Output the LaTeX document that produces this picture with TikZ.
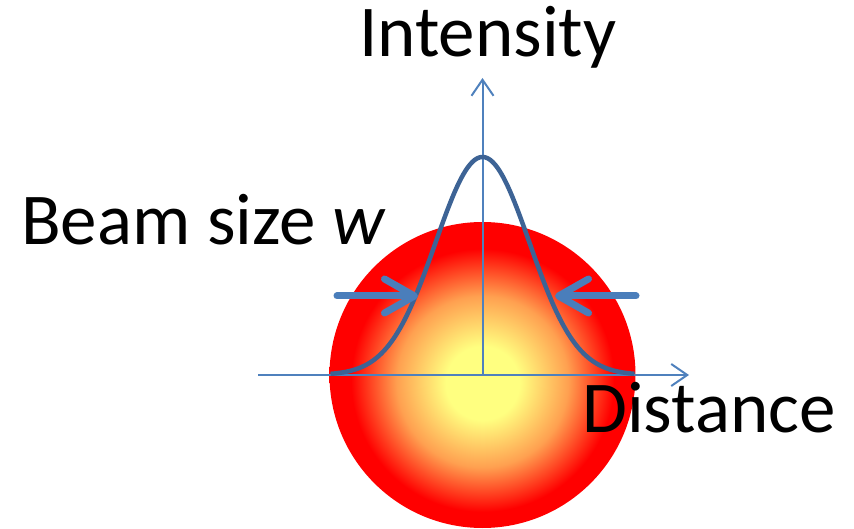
\documentclass[tikz,border=0pt]{standalone}
\usepackage{fontspec}
\setmainfont{Carlito}
\usetikzlibrary{arrows.meta}
\definecolor{axisblue}{HTML}{4F81BD}
\definecolor{curveblue}{HTML}{3D6395}
\definecolor{pinchblue}{HTML}{4A7EBB}
\definecolor{spotyellow}{HTML}{FFFF80}
\definecolor{spotorange}{HTML}{FFA050}
\definecolor{spotred}{HTML}{FF0000}
\pgfdeclareradialshading{beamspot}{\pgfpoint{0bp}{-1.5bp}}{color(0bp)=(spotyellow); color(6bp)=(spotyellow); color(14bp)=(spotorange); color(21.5bp)=(spotred); color(50bp)=(spotred)}

\begin{document}
\begin{tikzpicture}[x=1pt,y=-1pt,
  axis/.style={axisblue,line width=2pt,-{Straight Barb[length=16pt,width=22pt]}},
  pinch/.style={pinchblue,line width=7pt,line cap=round,-{Straight Barb[length=30pt,width=34pt,round]}},
  bigtext/.style={font=\fontsize{73}{86}\selectfont,inner sep=0pt,anchor=base west}]
  \useasboundingbox (0,0) rectangle (854,529);
  \coordinate (origin) at (482.5,375);
  \coordinate (xstart) at (258,375);
  \coordinate (xaxis) at (689,375);
  \coordinate (yaxis) at (482.5,78);
  % beam spot
  \shade[shading=beamspot] (origin) circle (153);
  \draw[axis] (xstart) -- (xaxis);
  \draw[axis] (origin) -- (yaxis);
  % gaussian profile
  \draw[curveblue,line width=4.5pt,line join=round]
    plot[domain=-152:152,samples=121,smooth] ({\x+482.5},{375-218*exp(-0.5*(\x/47)^2)});
  % width markers
  \coordinate (wl) at (337,296);
  \coordinate (wlin) at (418,296);
  \coordinate (wr) at (636,296);
  \coordinate (wrin) at (555,296);
  \draw[pinch] (wl) -- (wlin);
  \draw[pinch] (wr) -- (wrin);
  \node[bigtext] (intensity) at (359,57) {Intensity};
  \node[bigtext] (beamsize) at (21,245) {Beam size {\itshape w}};
  \node[bigtext] (distance) at (582,432) {Distance};
\end{tikzpicture}
\end{document}
